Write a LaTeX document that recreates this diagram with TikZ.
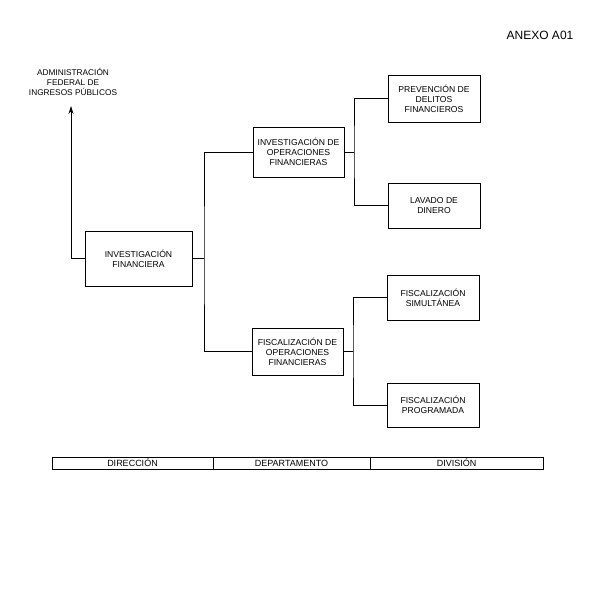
\documentclass[tikz,border=0pt]{standalone}
\usepackage{fontspec}
\setmainfont{Liberation Sans}
\usetikzlibrary{arrows.meta}
\begin{document}
\begin{tikzpicture}[x=1pt, y=-1pt, line width=0.7pt,
    every node/.style={align=center, inner sep=1pt, font=\fontsize{8.6}{10}\selectfont},
    unit/.style={draw, rectangle},
    cell/.style={draw, rectangle, minimum height=12pt, font=\fontsize{9}{10}\selectfont}]
  \useasboundingbox (0,0) rectangle (607,615);
  \node (anexo) at (540,35) {\fontsize{12}{14}\selectfont ANEXO A01};
  \node[font=\fontsize{8.3}{10}\selectfont] (afip) at (73,82) {ADMINISTRACIÓN\\FEDERAL DE\\INGRESOS PÚBLICOS};
  \coordinate (up) at (71,106);
  % direccion
  \node[unit, minimum width=107pt, minimum height=55pt] (fin) at (138.5,258.5) {INVESTIGACIÓN\\FINANCIERA};
  % departamentos
  \node[unit, minimum width=91pt, minimum height=50pt] (inv) at (298.5,152) {INVESTIGACIÓN DE\\OPERACIONES\\FINANCIERAS};
  \node[unit, minimum width=91pt, minimum height=47pt] (fis) at (297.5,351.5) {FISCALIZACIÓN DE\\OPERACIONES\\FINANCIERAS};
  % divisiones
  \node[unit, minimum width=92pt, minimum height=47pt] (prev) at (434,98.5) {PREVENCIÓN DE\\DELITOS\\FINANCIEROS};
  \node[unit, minimum width=92pt, minimum height=45pt] (lav) at (434,205.5) {LAVADO DE\\DINERO};
  \node[unit, minimum width=92pt, minimum height=45pt] (sim) at (433,297.5) {FISCALIZACIÓN\\SIMULTÁNEA};
  \node[unit, minimum width=92pt, minimum height=44pt] (prog) at (433,405) {FISCALIZACIÓN\\PROGRAMADA};
  \coordinate (j1) at (204,258.5);
  \coordinate (j2) at (354,152);
  \coordinate (j3) at (353,351.5);
  \draw[-{Stealth[length=8pt,width=5pt]}] (fin.west) -| (up);
  \draw (fin.east) -- (j1);
  \draw (inv.west) -| (j1) |- (fis.west);
  \draw (inv.east) -- (j2);
  \draw (prev.west) -| (j2) |- (lav.west);
  \draw (fis.east) -- (j3);
  \draw (sim.west) -| (j3) |- (prog.west);
  % niveles
  \node[cell, minimum width=161pt] (dir) at (132.5,463) {DIRECCIÓN};
  \node[cell, minimum width=157pt] (dep) at (291.5,463) {DEPARTAMENTO};
  \node[cell, minimum width=173pt] (div) at (456.5,463) {DIVISIÓN};
\end{tikzpicture}
\end{document}
